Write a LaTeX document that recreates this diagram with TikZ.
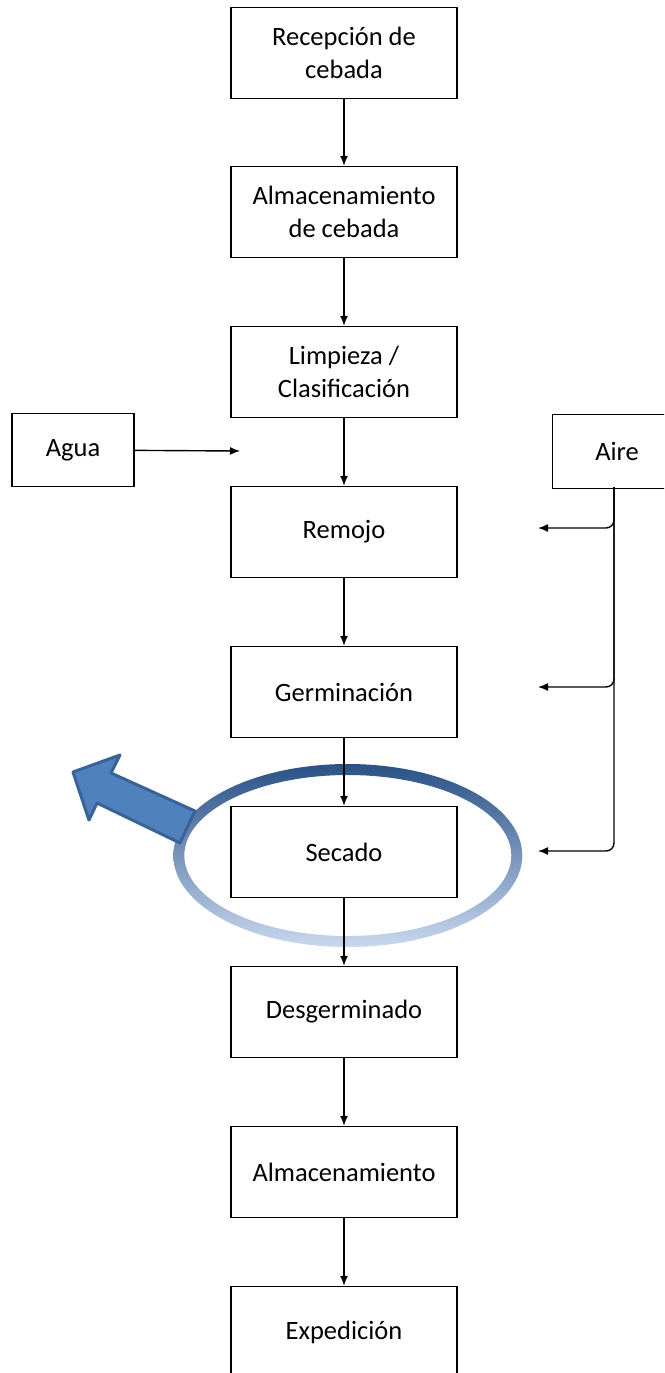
\documentclass[tikz,border=0pt]{standalone}
\usepackage{fontspec}
\setmainfont{Carlito}
\usetikzlibrary{arrows.meta}

\definecolor{ringTop}{HTML}{2A5186}
\definecolor{ringBottom}{HTML}{C8D8EE}
\definecolor{arrowFill}{HTML}{4F81BD}
\definecolor{arrowLine}{HTML}{3A6395}

\begin{document}
\begin{tikzpicture}[x=1pt,y=-1pt,
    >={Latex[length=10pt,width=8pt]},
    process/.style={draw, line width=1.4pt, minimum width=226pt, minimum height=91pt,
        align=center, inner sep=0pt, font=\fontsize{26.5}{33}\selectfont},
    supply/.style={process, minimum width=122pt, minimum height=73pt},
    flow/.style={->, line width=1.4pt}]
    \useasboundingbox (0,0) rectangle (664,1373);
    \clip (0,0) rectangle (664,1373);

    % ring round the drying step
    \shade[top color=ringTop, bottom color=ringBottom, even odd rule]
        (347.8,855.5) ellipse [x radius=174.5, y radius=91.5]
        (347.8,855.5) ellipse [x radius=163.5, y radius=80.5];
    \draw[fill=arrowFill, draw=arrowLine, line width=3pt, line join=round]
        (73,772) -- (120,755) -- (111,773) -- (195,811) -- (180,843)
        -- (97,803) -- (89,820) -- cycle;

    \node[process] (recepcion) at (344,53) {Recepción de\\cebada};
    \node[process] (almacenCebada) at (344,212) {Almacenamiento\\de cebada};
    \node[process] (limpieza) at (344,372) {Limpieza /\\Clasificación};
    \node[process] (remojo) at (344,532) {Remojo};
    \node[process] (germinacion) at (344,692) {Germinación};
    \node[process] (secado) at (344,852) {Secado};
    \node[process] (desgerminado) at (344,1012) {Desgerminado};
    \node[process] (almacenamiento) at (344,1172) {Almacenamiento};
    \node[process] (expedicion) at (344,1332) {Expedición};

    \node[supply] (agua) at (73,450) {Agua};
    % the box runs on past the right margin, so no right side
    \node[supply, draw=none, minimum width=128pt] (aire) at (617,451.5) {Aire};
    \draw[line width=1.4pt] (aire.north east) -- (aire.north west)
        -- (aire.south west) -- (aire.south east);

    \coordinate (aguaEnd) at (240,451);
    \coordinate (aireDown) at (614,487);
    \coordinate (aireRemojo) at (538,528);
    \coordinate (aireGerminacion) at (538,687);
    \coordinate (aireSecado) at (538,851);

\draw[flow] (recepcion) -- (almacenCebada);
\draw[flow] (almacenCebada) -- (limpieza);
\draw[flow] (limpieza) -- (remojo);
\draw[flow] (remojo) -- (germinacion);
\draw[flow] (germinacion) -- (secado);
\draw[flow] (secado) -- (desgerminado);
\draw[flow] (desgerminado) -- (almacenamiento);
\draw[flow] (almacenamiento) -- (expedicion);
\draw[flow] (agua) -- (aguaEnd);
\draw[flow, rounded corners=8pt] (aireDown) |- (aireRemojo);
\draw[flow, rounded corners=8pt] (aireDown) |- (aireGerminacion);
\draw[flow, rounded corners=8pt] (aireDown) |- (aireSecado);

\end{tikzpicture}
\end{document}
